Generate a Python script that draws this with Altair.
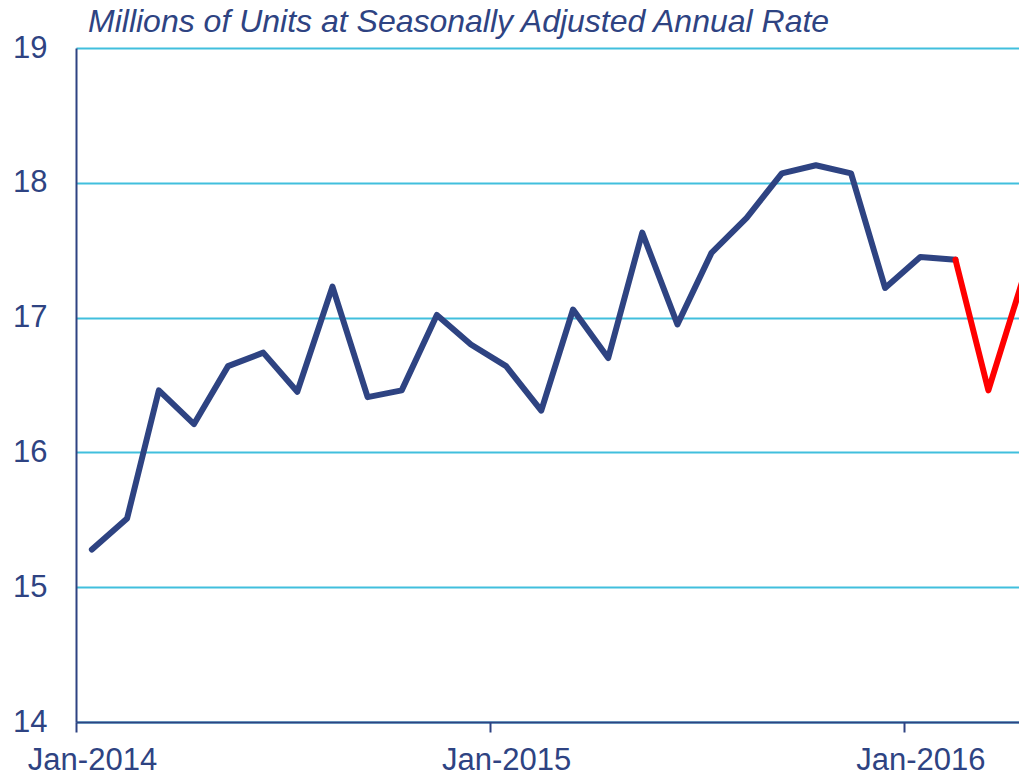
import altair as alt
import pandas as pd

dates = [d.strftime("%Y-%m-%d") for d in pd.date_range("2014-01-01", periods=28, freq="MS") + pd.Timedelta(days=14)]
sales = [15.28, 15.51, 16.46, 16.21, 16.64, 16.74, 16.45, 17.23, 16.41, 16.46, 17.02, 16.80,
         16.64, 16.31, 17.06, 16.70, 17.63, 16.95, 17.48, 17.74, 18.07, 18.13, 18.07, 17.22,
         17.45, 17.43, 16.46, 17.30]
# last months drawn in red (segment starts at Feb-2016)
red_start = 25

NAVY = "#2E4382"
RED = "#FF0000"
GRID = "#41BFDD"
FONT = "Liberation Sans"

rows = []
for i, (d, v) in enumerate(zip(dates, sales)):
    if i <= red_start:
        rows.append({"date": d, "value": v, "seg": "hist", "col": NAVY})
    if i >= red_start:
        rows.append({"date": d, "value": v, "seg": "recent", "col": RED})
df = pd.DataFrame(rows)

x_ticks = ["2014-01-01", "2015-01-01", "2016-01-01"]

chart = alt.Chart(df).mark_line(strokeWidth=6, strokeCap="round", strokeJoin="round", clip=True).encode(
    x=alt.X("date:T",
            scale=alt.Scale(domain=["2014-01-01", "2016-04-11"]),
            axis=alt.Axis(values=[pd.Timestamp(t).value // 10**6 for t in x_ticks],
                          format="%b-%Y", labelOffset=16, title=None, grid=False,
                          domainColor=NAVY, domainWidth=2, tickColor=NAVY, tickWidth=2,
                          tickSize=10, labelPadding=13, labelFontSize=31, labelFont=FONT,
                          labelColor=NAVY, labelFlush=False)),
    y=alt.Y("value:Q",
            scale=alt.Scale(domain=[14, 19], nice=False, zero=False),
            axis=alt.Axis(values=[14, 15, 16, 17, 18, 19], title=None, grid=True,
                          gridColor=GRID, gridWidth=2, ticks=False,
                          domainColor=NAVY, domainWidth=2, labelPadding=29,
                          labelFontSize=31, labelFont=FONT, labelColor=NAVY)),
    detail="seg:N",
    color=alt.Color("col:N", scale=None),
).properties(
    width=943,
    height=674,
    autosize=alt.AutoSizeParams(type="none"),
    padding={"left": 68, "top": 40, "right": 0, "bottom": 53},
    title=alt.TitleParams("Millions of Units at Seasonally Adjusted Annual Rate",
                          anchor="start", frame="group", fontStyle="italic", fontWeight="normal",
                          fontSize=32, font=FONT, color=NAVY, dx=12, dy=9, offset=2),
).configure_view(stroke=None)

chart.save("out.html", embed_options={"renderer": "svg", "actions": False})
